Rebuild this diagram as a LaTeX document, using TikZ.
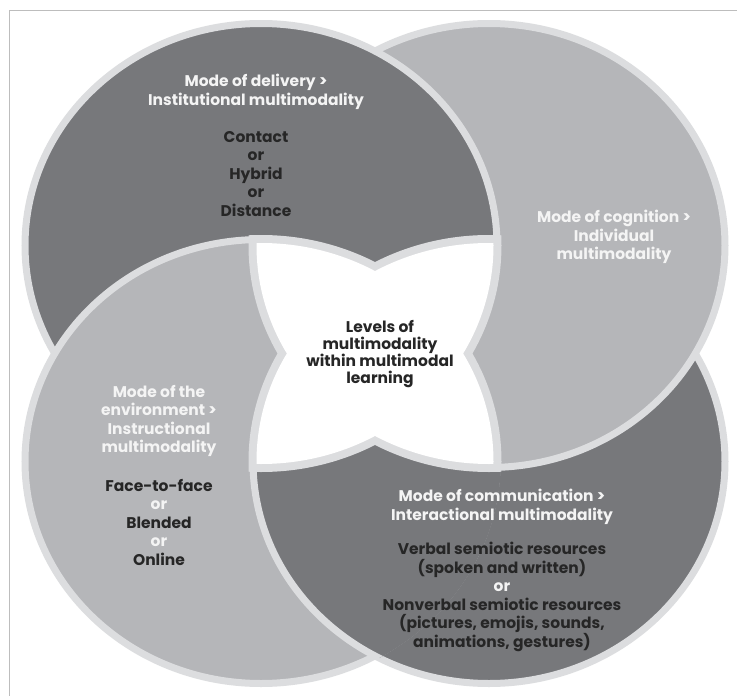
\documentclass[tikz,border=0pt]{standalone}
\usepackage{fontspec}
\setmainfont{Poppins}
\begin{document}
\begin{tikzpicture}[x=1pt,y=-1pt]
\definecolor{darkfill}{HTML}{77787B}
\definecolor{lightfill}{HTML}{B5B6B9}
\definecolor{ringcol}{HTML}{DCDDDF}
\definecolor{framecol}{HTML}{BDBDBD}
\definecolor{txtdark}{HTML}{262626}
\definecolor{txtlight}{HTML}{F4F4F4}
\tikzset{
  circ/.style={line width=7pt, draw=ringcol},
  lbl/.style={align=center, font=\bfseries\fontsize{15.5}{18.5}\selectfont, inner sep=0pt},
  ell/.style={x radius=236pt, y radius=222pt},
  ellring/.style={x radius=240.5pt, y radius=226.5pt},
  ellin/.style={x radius=232.5pt, y radius=218.5pt},
  ellclip/.style={x radius=239.8pt, y radius=225.8pt},
}
\useasboundingbox (0,0) rectangle (737,696);
\fill[white] (0,0) rectangle (737,696);
\draw[framecol, line width=1pt] (9,696) -- (9,10) -- (737,10);

\coordinate (cTL) at (261,245.5);
\coordinate (cR)  at (489,245.5);
\coordinate (cBR) at (489,461.5);
\coordinate (cBL) at (261,461.5);

% pinwheel: TL over R, R over BR, BR over BL, BL over TL
\filldraw[fill=darkfill, circ] (cBR) ellipse [ell];
\filldraw[fill=lightfill, circ] (cR) ellipse [ell];
\filldraw[fill=darkfill, circ] (cTL) ellipse [ell];
\filldraw[fill=lightfill, circ] (cBL) ellipse [ell];
\begin{scope}
  \clip (cBL) ellipse [ellclip];
  \filldraw[fill=darkfill, circ] (cBR) ellipse [ell];
\end{scope}

% white centre: (TL and BR) or (R and BL), with ring
\begin{scope}
  \clip (cTL) ellipse [ellring];
  \fill[ringcol] (cBR) ellipse [ellring];
\end{scope}
\begin{scope}
  \clip (cR) ellipse [ellring];
  \fill[ringcol] (cBL) ellipse [ellring];
\end{scope}
\begin{scope}
  \clip (cTL) ellipse [ellin];
  \fill[white] (cBR) ellipse [ellin];
\end{scope}
\begin{scope}
  \clip (cR) ellipse [ellin];
  \fill[white] (cBL) ellipse [ellin];
\end{scope}

% texts
\node[lbl, text=txtlight] (tTLh) at (256,92) {Mode of delivery >\\Institutional multimodality};
\node[lbl, text=txtdark] (tTLb) at (256,174) {Contact\\or\\Hybrid\\or\\Distance};
\node[lbl, text=txtlight] (tRh) at (614,237) {Mode of cognition >\\Individual\\multimodality};
\node[lbl, text=txtdark, font=\bfseries\fontsize{15.5}{17}\selectfont] (tC) at (380,354) {Levels of\\multimodality\\within multimodal\\learning};
\node[lbl, text=txtlight] (tBLh) at (159,421) {Mode of the\\environment >\\Instructional\\multimodality};
\node[lbl, text=txtdark] (tBLb) at (159,522) {Face-to-face\\{\color{txtlight}or}\\Blended\\{\color{txtlight}or}\\Online};
\node[lbl, text=txtlight] (tBRh) at (502,507) {Mode of communication >\\Interactional multimodality};
\node[lbl, text=txtdark] (tBRb) at (502,597) {Verbal semiotic resources\\(spoken and written)\\{\color{txtlight}or}\\Nonverbal semiotic resources\\(pictures, emojis, sounds,\\animations, gestures)};
\end{tikzpicture}
\end{document}
